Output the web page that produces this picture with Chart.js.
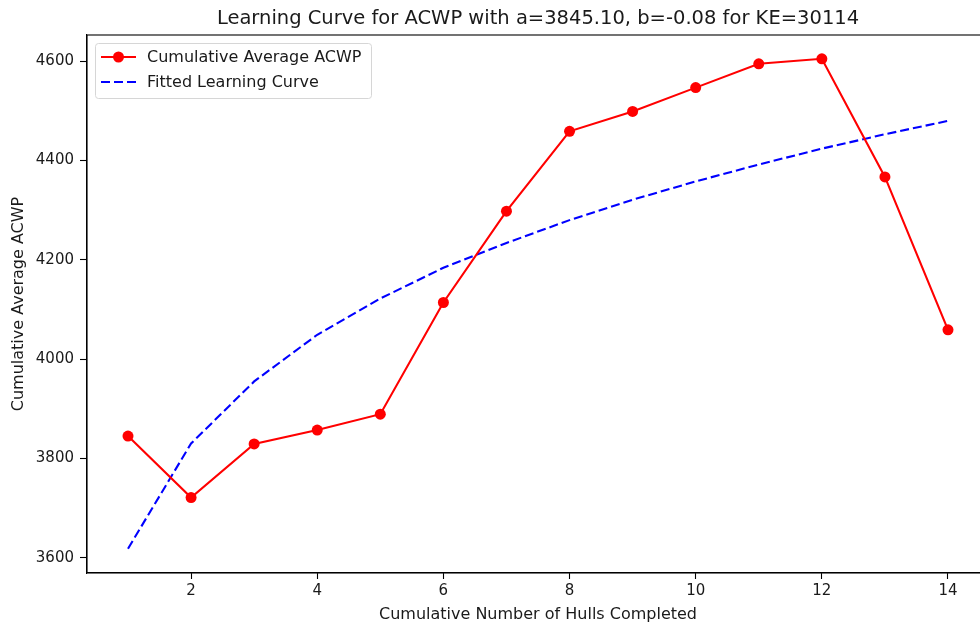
<!DOCTYPE html>
<html>
<head>
<meta charset="utf-8">
<title>Learning Curve for ACWP</title>
<script src="https://cdn.jsdelivr.net/npm/chart.js@4.4.0/dist/chart.umd.min.js"></script>
<style>
  html, body { margin: 0; padding: 0; background: #fff; overflow: hidden; }
  #wrap { position: relative; width: 1000px; height: 628px; }
</style>
</head>
<body>
<div id="wrap"><canvas id="lc"></canvas></div>
<script>
// hulls completed (x) and cumulative average ACWP per hull
const hulls = [1, 2, 3, 4, 5, 6, 7, 8, 9, 10, 11, 12, 13, 14];
const acwpAvg = [3845, 3721, 3829, 3857, 3889, 4114, 4298, 4459, 4499, 4547, 4595, 4605, 4367, 4059];
// fitted learning curve evaluated at the same hull counts
const fitted = [3618, 3830, 3955, 4049, 4122, 4184, 4234, 4280, 4321, 4358, 4392, 4424, 4453, 4480];

const xTicks = [2, 4, 6, 8, 10, 12, 14];
const yTicks = [3600, 3800, 4000, 4200, 4400, 4600];

const FONT = 'DejaVu Sans';

function toPoints(ys) {
  return hulls.map((h, i) => ({ x: h, y: ys[i] }));
}

// matplotlib-like frame around the plot area plus an inset legend
const framePlugin = {
  id: 'frame',
  afterDraw(chart) {
    const { ctx, chartArea: a } = chart;
    ctx.save();
    ctx.strokeStyle = '#000';
    ctx.lineWidth = 1.1;
    ctx.strokeRect(a.left, a.top, a.right - a.left, a.bottom - a.top);

    // legend box
    const bx = 95, by = 43, bw = 276, bh = 55;
    ctx.fillStyle = 'rgba(255,255,255,0.8)';
    ctx.strokeStyle = '#d6d6d6';
    ctx.lineWidth = 1;
    ctx.beginPath();
    ctx.roundRect(bx + 0.5, by + 0.5, bw, bh, 3);
    ctx.fill();
    ctx.stroke();

    ctx.font = '16px "' + FONT + '"';
    ctx.textBaseline = 'middle';
    ctx.textAlign = 'left';
    const rows = [57, 82];
    chart.data.datasets.forEach((ds, i) => {
      const y = rows[i];
      ctx.strokeStyle = ds.borderColor;
      ctx.lineWidth = ds.borderWidth;
      ctx.setLineDash(ds.borderDash || []);
      ctx.beginPath();
      ctx.moveTo(101, y);
      ctx.lineTo(136, y);
      ctx.stroke();
      ctx.setLineDash([]);
      if (ds.pointRadius > 0) {
        ctx.fillStyle = ds.pointBackgroundColor;
        ctx.beginPath();
        ctx.arc(118.5, y, ds.pointRadius, 0, Math.PI * 2);
        ctx.fill();
      }
      ctx.fillStyle = '#1a1a1a';
      ctx.fillText(ds.label, 147, y + 1);
    });
    ctx.restore();
  }
};

new Chart(document.getElementById('lc'), {
  type: 'line',
  data: {
    datasets: [
      {
        label: 'Cumulative Average ACWP',
        data: toPoints(acwpAvg),
        borderColor: '#ff0000',
        backgroundColor: '#ff0000',
        pointBackgroundColor: '#ff0000',
        pointBorderWidth: 0,
        pointRadius: 5.5,
        borderWidth: 2.1,
        tension: 0
      },
      {
        label: 'Fitted Learning Curve',
        data: toPoints(fitted),
        borderColor: '#0000ff',
        backgroundColor: '#0000ff',
        borderDash: [9, 4],
        pointRadius: 0,
        borderWidth: 2.1,
        tension: 0
      }
    ]
  },
  options: {
    responsive: true,
    maintainAspectRatio: false,
    animation: false,
    events: [],
    layout: { padding: { left: 0, right: 11, top: 0, bottom: 0 } },
    plugins: {
      legend: { display: false },
      tooltip: { enabled: false },
      title: {
        display: true,
        fullSize: false,
        text: 'Learning Curve for ACWP with a=3845.10, b=-0.08 for KE=30114',
        color: '#1a1a1a',
        font: { family: FONT, size: 19.5, weight: 'normal' },
        padding: { top: 7, bottom: 4.6 }
      }
    },
    scales: {
      x: {
        type: 'linear',
        min: 0.35,
        max: 14.65,
        afterBuildTicks(scale) {
          scale.ticks = xTicks.map(v => ({ value: v }));
        },
        afterFit(scale) { scale.height = 55; },
        border: { display: true, color: '#000', width: 1.1 },
        grid: { drawOnChartArea: false, tickLength: 6, tickColor: '#000', tickWidth: 1.1 },
        ticks: {
          color: '#1a1a1a', font: { family: FONT, size: 15 }, padding: 3, maxRotation: 0,
          callback: v => String(v)
        },
        title: {
          display: true,
          text: 'Cumulative Number of Hulls Completed',
          color: '#1a1a1a',
          font: { family: FONT, size: 16 },
          padding: { top: 0, bottom: 4 }
        }
      },
      y: {
        min: 3569,
        max: 4653,
        afterBuildTicks(scale) {
          scale.ticks = yTicks.map(v => ({ value: v }));
        },
        afterFit(scale) { scale.width = 87; },
        border: { display: true, color: '#000', width: 1.1 },
        grid: { drawOnChartArea: false, tickLength: 7, tickColor: '#000', tickWidth: 1.1 },
        ticks: {
          color: '#1a1a1a', font: { family: FONT, size: 15 }, padding: 6,
          callback: v => String(v)
        },
        title: {
          display: true,
          text: 'Cumulative Average ACWP',
          color: '#1a1a1a',
          font: { family: FONT, size: 16 },
          padding: { top: 9, bottom: 0 }
        }
      }
    }
  },
  plugins: [framePlugin]
});
</script>
</body>
</html>
